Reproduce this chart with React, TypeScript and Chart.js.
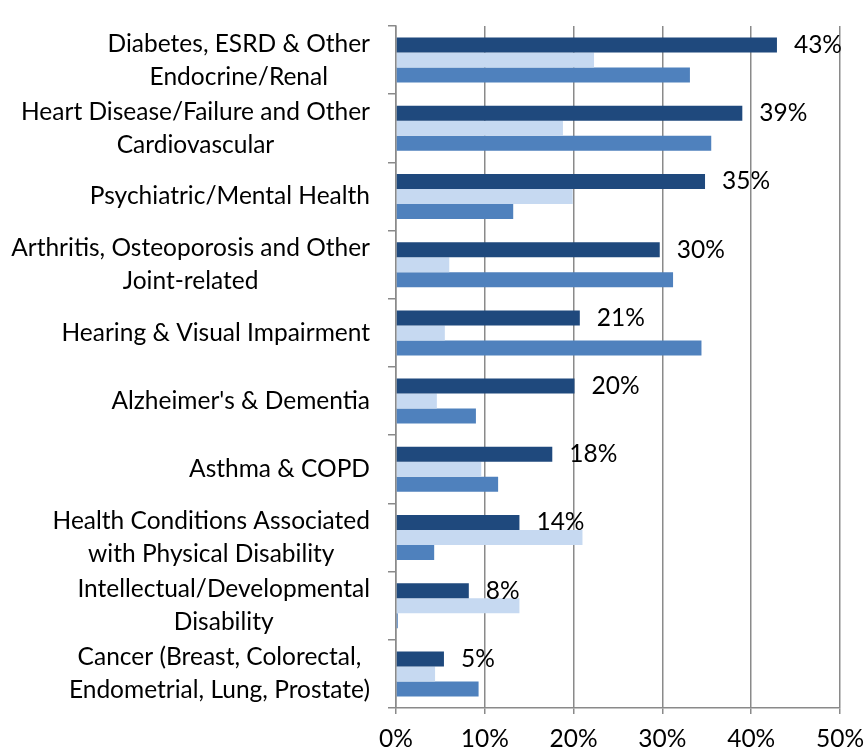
import React, { useEffect, useRef } from "react";
import { Chart, registerables } from "chart.js";

Chart.register(...registerables);

const categories: string[][] = [
  ["Diabetes, ESRD & Other", "Endocrine/Renal"],
  ["Heart Disease/Failure and Other", "Cardiovascular"],
  ["Psychiatric/Mental Health"],
  ["Arthritis, Osteoporosis and Other", "Joint-related"],
  ["Hearing & Visual Impairment"],
  ["Alzheimer's & Dementia"],
  ["Asthma & COPD"],
  ["Health Conditions Associated", "with Physical Disability"],
  ["Intellectual/Developmental", "Disability"],
  ["Cancer (Breast, Colorectal,", "Endometrial, Lung, Prostate)"],
];

const seriesDark = [42.9, 39.0, 34.8, 29.7, 20.7, 20.1, 17.6, 13.9, 8.2, 5.4];
const seriesLight = [22.3, 18.8, 19.9, 6.0, 5.5, 4.6, 9.6, 21.0, 13.9, 4.4];
const seriesMedium = [33.1, 35.5, 13.2, 31.2, 34.4, 9.0, 11.5, 4.3, 0.2, 9.3];

const xTicks = [0, 10, 20, 30, 40, 50];

const FONT = "Lato, 'Open Sans', sans-serif";
const FONT_SIZE = 24.5;
const GRID = "#8a8a8a";

const valueLabels = {
  id: "valueLabels",
  afterDatasetsDraw(chart: any) {
    const ctx = chart.ctx;
    const meta = chart.getDatasetMeta(0);
    ctx.save();
    ctx.font = `${FONT_SIZE}px ${FONT}`;
    ctx.fillStyle = "#000";
    ctx.textAlign = "left";
    ctx.textBaseline = "middle";
    meta.data.forEach((bar: any, i: number) => {
      const v = seriesDark[i];
      ctx.fillText(`${Math.round(v)}%`, bar.x + 17, bar.y);
    });
    ctx.restore();
  },
};

// Category labels: each multi-line block centred on itself, right edge near the axis
const categoryLabels = {
  id: "categoryLabels",
  afterDraw(chart: any) {
    const ctx = chart.ctx;
    const y = chart.scales.y;
    const right = y.right - 8 - 18;
    const lineH = 33;
    ctx.save();
    ctx.font = `${FONT_SIZE}px ${FONT}`;
    ctx.fillStyle = "#000";
    ctx.textAlign = "center";
    ctx.textBaseline = "middle";
    categories.forEach((lines, i) => {
      const cy = y.getPixelForValue(i);
      const w = Math.max(...lines.map((l) => ctx.measureText(l).width));
      const cx = right - w / 2;
      const top = cy - ((lines.length - 1) * lineH) / 2;
      lines.forEach((l, j) => ctx.fillText(l, cx, top + j * lineH));
    });
    ctx.restore();
  },
};

export default function App() {
  const ref = useRef<HTMLCanvasElement>(null);
  useEffect(() => {
    if (!ref.current) return;
    const chart = new Chart(ref.current, {
      type: "bar",
      data: {
        labels: categories.map((l) => l.join(" ")),
        datasets: [
          { data: seriesDark, backgroundColor: "#1F497D" },
          { data: seriesLight, backgroundColor: "#C6D9F1" },
          { data: seriesMedium, backgroundColor: "#4F81BD" },
        ],
      },
      options: {
        indexAxis: "y",
        animation: false,
        responsive: true,
        maintainAspectRatio: false,
        layout: { padding: { left: 0, top: 26, right: 27, bottom: 0 } },
        datasets: { bar: { categoryPercentage: 0.66, barPercentage: 1.0 } },
        plugins: { legend: { display: false }, tooltip: { enabled: false } },
        scales: {
          x: {
            min: 0,
            max: 50,
            afterBuildTicks: (s: any) => {
              s.ticks = xTicks.map((v) => ({ value: v }));
            },
            afterFit: (s: any) => {
              s.height = 45;
              s.paddingLeft = 0;
              s.paddingRight = 0;
              s.paddingTop = 0;
              s.paddingBottom = 0;
            },
            ticks: {
              color: "#000",
              font: { family: FONT, size: FONT_SIZE },
              padding: 10,
              callback: (v: any) => `${v}%`,
            },
            grid: { color: GRID, lineWidth: 1.5, tickLength: 6, drawTicks: true },
            border: { color: GRID, width: 1.5 },
          },
          y: {
            afterFit: (s: any) => {
              s.width = 396;
              s.paddingTop = 0;
              s.paddingBottom = 0;
              s.paddingLeft = 0;
              s.paddingRight = 0;
            },
            ticks: { display: false, autoSkip: false },
            grid: {
              drawOnChartArea: false,
              drawTicks: true,
              tickLength: 8,
              color: GRID,
              lineWidth: 1.5,
              offset: true,
            },
            border: { color: GRID, width: 1.5 },
          },
        },
      },
      plugins: [valueLabels, categoryLabels],
    });
    return () => chart.destroy();
  }, []);
  return (
    <div style={{ position: "absolute", left: 0, top: 0, width: 867, height: 753, background: "#fff" }}>
      <canvas ref={ref} />
    </div>
  );
}
